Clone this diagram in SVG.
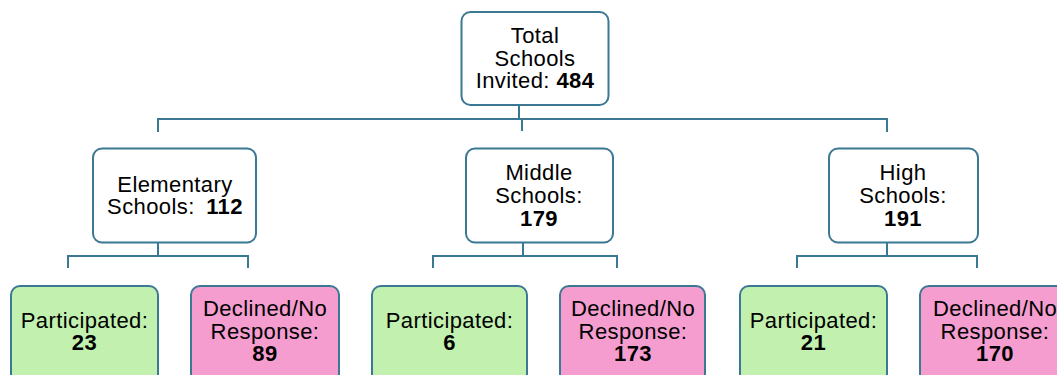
<svg xmlns="http://www.w3.org/2000/svg" width="1057" height="375" viewBox="0 0 1057 375">
<style>
.box{stroke:#3a7893;stroke-width:2;}
.w{fill:#ffffff;}
.g{fill:#c2f0ae;}
.p{fill:#f59dcf;}
.t{font-family:"Liberation Sans",Arial,sans-serif;font-size:22px;letter-spacing:0.4px;fill:#000;text-anchor:middle;}
.b{font-weight:bold;}
.c{fill:none;stroke:#3a7893;stroke-width:2;}
</style>
<rect width="1057" height="375" fill="#ffffff"/>
<g id="connectors">
<path class="c" d="M519 105V119M158 132V119H887V132M522 119V131"/>
<path class="c" d="M158 243V256M68 268V256H248V268"/>
<path class="c" d="M523 243V256M433 268V256H617V268"/>
<path class="c" d="M887 243V256M797 268V256H977V268"/>
</g>
<g id="total">
<rect class="box w" x="461.5" y="12" width="147" height="93" rx="9"/>
<text class="t" x="535" y="43">Total</text>
<text class="t" x="535" y="65.5">Schools</text>
<text class="t" x="535" y="88">Invited: <tspan class="b">484</tspan></text>
</g>
<g id="elementary">
<rect class="box w" x="93" y="148.5" width="163" height="94" rx="9"/>
<text class="t" x="175" y="192">Elementary</text>
<text class="t" x="175" y="214">Schools: <tspan class="b" dx="5">112</tspan></text>
</g>
<g id="middle">
<rect class="box w" x="466" y="148.5" width="147" height="94" rx="9"/>
<text class="t" x="539" y="180">Middle</text>
<text class="t" x="539" y="203">Schools:</text>
<text class="t b" x="539" y="225.5">179</text>
</g>
<g id="high">
<rect class="box w" x="829" y="148.5" width="149" height="94" rx="9"/>
<text class="t" x="903" y="180">High</text>
<text class="t" x="903" y="203">Schools:</text>
<text class="t b" x="903" y="225.5">191</text>
</g>
<g id="elem-participated">
<rect class="box g" x="11" y="286" width="147" height="104" rx="9"/>
<text class="t" x="84.5" y="327.5">Participated:</text>
<text class="t b" x="84.5" y="350">23</text>
</g>
<g id="elem-declined">
<rect class="box p" x="191" y="286" width="148" height="104" rx="9"/>
<text class="t" x="265" y="316">Declined/No</text>
<text class="t" x="265" y="338.5">Response:</text>
<text class="t b" x="265" y="361">89</text>
</g>
<g id="mid-participated">
<rect class="box g" x="372" y="286" width="155" height="104" rx="9"/>
<text class="t" x="449.5" y="327.5">Participated:</text>
<text class="t b" x="449.5" y="350">6</text>
</g>
<g id="mid-declined">
<rect class="box p" x="560" y="286" width="145" height="104" rx="9"/>
<text class="t" x="633" y="316">Declined/No</text>
<text class="t" x="633" y="338.5">Response:</text>
<text class="t b" x="633" y="361">173</text>
</g>
<g id="high-participated">
<rect class="box g" x="740" y="286" width="147" height="104" rx="9"/>
<text class="t" x="813.5" y="327.5">Participated:</text>
<text class="t b" x="813.5" y="350">21</text>
</g>
<g id="high-declined">
<rect class="box p" x="920" y="286" width="160" height="104" rx="9"/>
<text class="t" x="995" y="316">Declined/No</text>
<text class="t" x="995" y="338.5">Response:</text>
<text class="t b" x="995" y="361">170</text>
</g>
</svg>
